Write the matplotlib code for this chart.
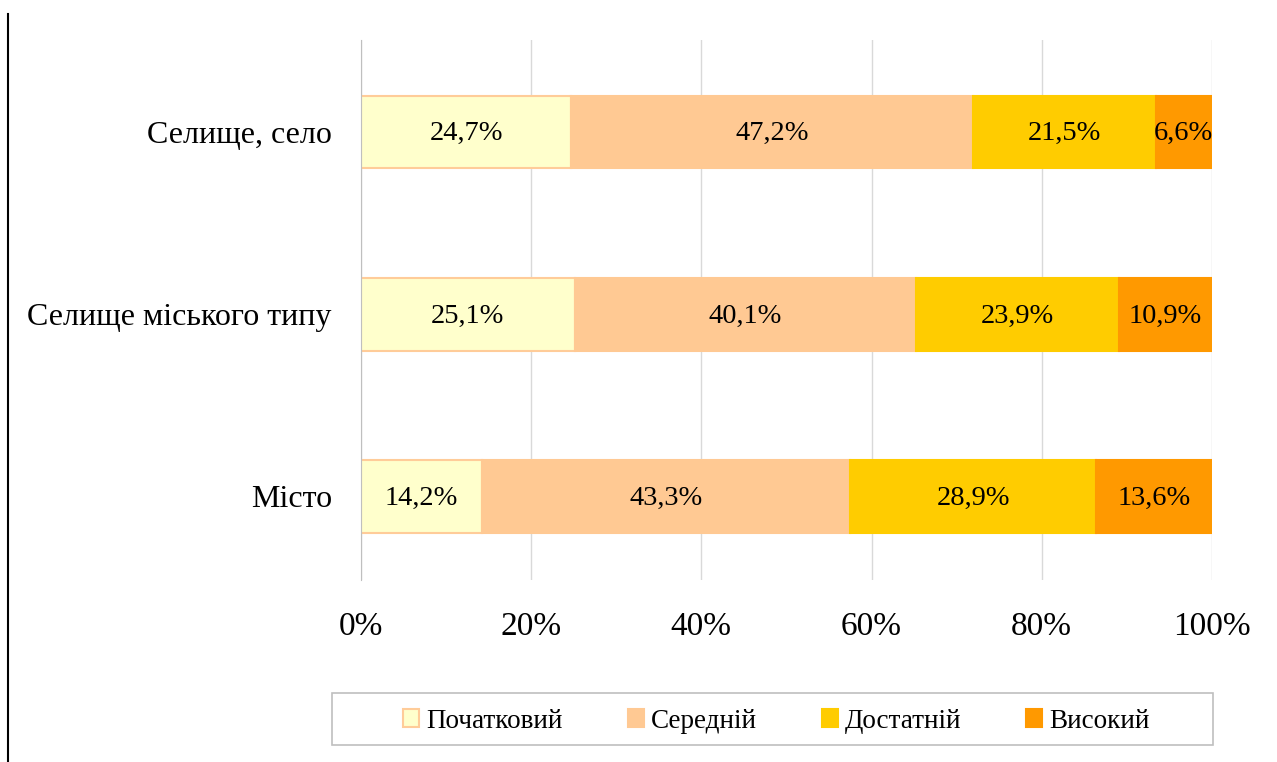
import matplotlib.pyplot as plt
from matplotlib.patches import Rectangle
from matplotlib.lines import Line2D
import numpy as np

plt.rcParams['font.family'] = ['Liberation Serif', 'DejaVu Serif']

# data
categories = ['Місто', 'Селище міського типу', 'Селище, село']
levels = ['Початковий', 'Середній', 'Достатній', 'Високий']
pochatkovyi = [14.2, 25.1, 24.7]
serednii = [43.3, 40.1, 47.2]
dostatnii = [28.9, 23.9, 21.5]
vysokyi = [13.6, 10.9, 6.6]
series = [pochatkovyi, serednii, dostatnii, vysokyi]
colors = ['#FFFFCC', '#FFC993', '#FFCC00', '#FF9900']
edges = ['#FFCC99', '#FFC993', '#FFCC00', '#FF9900']

fig = plt.figure(figsize=(12.77, 7.62), dpi=100)
ax = fig.add_axes([0.2827, 0.2388, 0.6663, 0.7087])

y = np.arange(len(categories))
left = np.zeros(len(categories))
handles = []
for vals, c, ec, name in zip(series, colors, edges, levels):
    bars = ax.barh(y, vals, left=left, height=0.4, color=c, edgecolor=ec,
                   linewidth=1.5, label=name, zorder=3)
    handles.append(bars)
    for yi, l, v in zip(y, left, vals):
        ax.text(l + v / 2, yi - 0.01, f"{v:.1f}%".replace('.', ','), ha='center',
                va='center', fontsize=20.5, color='black', zorder=4)
    left = left + np.array(vals)

ax.set_xlim(0, 100)
ax.set_ylim(-0.46, 2.505)
ax.set_yticks(y)
ax.set_yticklabels(categories, fontsize=23)
ax.set_xticks(np.arange(0, 101, 20))
ax.set_xticklabels([f"{t}%" for t in range(0, 101, 20)], fontsize=24)
ax.tick_params(axis='both', length=0)
ax.tick_params(axis='x', pad=23)
ax.tick_params(axis='y', pad=21)
ax.grid(axis='x', color='#D9D9D9', linewidth=1, zorder=0)
for s in ['top', 'right', 'bottom']:
    ax.spines[s].set_visible(False)
ax.spines['left'].set_color('#BFBFBF')
ax.spines['left'].set_zorder(5)

# legend box
fig.patches.append(Rectangle((332 / 1277, 1 - 745 / 762), 881 / 1277, 52 / 762,
                             transform=fig.transFigure, facecolor='white',
                             edgecolor='#BFBFBF', linewidth=1.2))
fig.legend(handles=handles, loc='center', bbox_to_anchor=(0.608, 1 - 721 / 762),
           ncol=4, frameon=False, fontsize=19.5, handlelength=0.6, handleheight=0.6,
           handletextpad=0.25, columnspacing=2.4)

# left border line
fig.lines.append(Line2D([8 / 1277, 8 / 1277], [0, 1 - 14 / 762],
                        transform=fig.transFigure, color='black', linewidth=1.5))

fig.savefig('out.png', dpi=100)
